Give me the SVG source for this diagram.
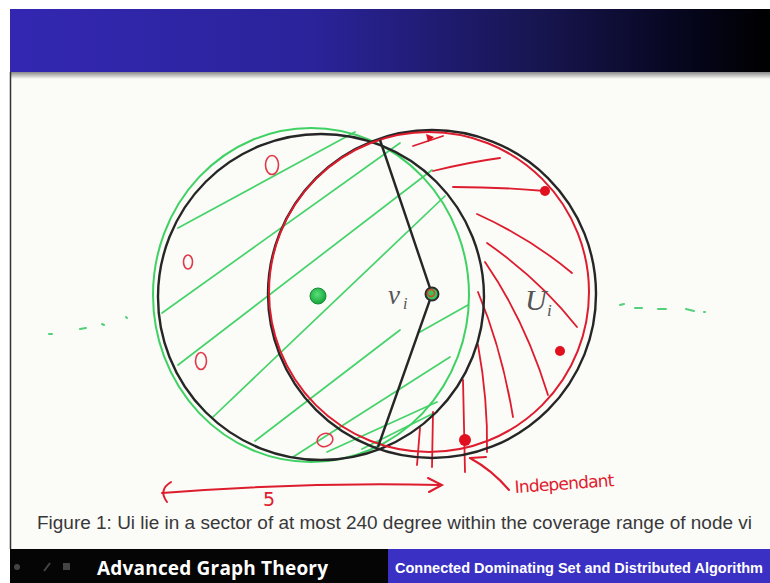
<svg xmlns="http://www.w3.org/2000/svg" width="770" height="583" viewBox="0 0 770 583">
<defs>
<linearGradient id="topband" x1="0" y1="0" x2="1" y2="0">
<stop offset="0" stop-color="#3327b2"/>
<stop offset="0.4" stop-color="#2a239a"/>
<stop offset="0.7" stop-color="#17154f"/>
<stop offset="0.9" stop-color="#05051a"/>
<stop offset="1" stop-color="#000000"/>
</linearGradient>
<linearGradient id="shadow" x1="0" y1="0" x2="0" y2="1">
<stop offset="0" stop-color="#8a8a8a"/>
<stop offset="1" stop-color="#fbfbf8"/>
</linearGradient>
<radialGradient id="gdot" cx="0.45" cy="0.4" r="0.6">
<stop offset="0" stop-color="#5be07a"/>
<stop offset="1" stop-color="#15a43a"/>
</radialGradient>
</defs>
<style>
.blk{fill:none;stroke:#262626;stroke-width:2.4}
.grn{fill:none;stroke:#3fd163;stroke-width:2}
.red{fill:none;stroke:#dd1c2e;stroke-width:2;stroke-linecap:round}
.hatch{fill:none;stroke:#46d36a;stroke-width:1.7;stroke-linecap:round}
.rh{fill:none;stroke:#dd1c2e;stroke-width:1.8;stroke-linecap:round}
.zero{fill:none;stroke:#e03a4a;stroke-width:1.6}
.rdot{fill:#e0101f}
.dash{fill:none;stroke:#52d07a;stroke-width:2;stroke-linecap:round}
.cap{font-family:"Liberation Sans",Arial,sans-serif;font-size:17.5px;fill:#383838}
.math{font-family:"Liberation Serif","DejaVu Serif",serif;font-style:italic;fill:#555}
.hand{font-family:"DejaVu Sans","Liberation Sans",sans-serif;fill:#e01c2e}
</style>

<rect x="0" y="0" width="770" height="583" fill="#ffffff"/>
<rect x="10" y="72" width="760" height="477" fill="#fbfbf8"/>
<rect x="10" y="9" width="760" height="63" fill="url(#topband)"/>
<rect x="10" y="72" width="760" height="7" fill="url(#shadow)"/>
<line x1="10.5" y1="72" x2="10.5" y2="549" stroke="#333" stroke-width="1.5"/>

<g id="hatching">
<path class="hatch" d="M178,228 L355,132"/>
<path class="hatch" d="M162,313 L400,143"/>
<path class="hatch" d="M178,365 L432,170"/>
<path class="hatch" d="M213,417 L445,196"/>
<path class="hatch" d="M255,441 L400,330"/>
<path class="hatch" d="M420,332 L468,305"/>
<path class="hatch" d="M293,457 L450,357"/>
<path class="hatch" d="M327,452 L437,402"/>
<path class="hatch" d="M362,449 L432,414"/>
</g>

<g id="red-hatching">
<path class="rh" d="M413,146 L443,136"/>
<path class="rdot" d="M426,134 L434,137 L428,142 Z"/>
<path class="rh" d="M433,171 Q470,162 500,158"/>
<path class="rh" d="M453,187 Q500,187 545,191"/>
<path class="rh" d="M477,214 Q530,238 572,273"/>
<path class="rh" d="M487,243 Q540,280 577,327"/>
<path class="rh" d="M485,262 Q525,320 548,395"/>
<path class="rh" d="M478,292 Q502,350 513,417"/>
<path class="rh" d="M478,345 Q488,400 487,452"/>
<path class="rh" d="M463,380 L465,472"/>
<path class="rh" d="M433,412 L432,467"/>
<path class="rh" d="M420,428 L417,465"/>
</g>

<g id="circle-u">
<ellipse class="grn" cx="311" cy="295" rx="158" ry="167"/>
<circle class="blk" cx="321" cy="297" r="163"/>
</g>

<g id="circle-vi">
<circle class="blk" cx="432" cy="294" r="164"/>
<circle class="red" cx="429" cy="292" r="160"/>
</g>

<g id="connectors">
<path class="blk" d="M380,140 L432,294 L378,447" stroke-width="2"/>
<path class="red" d="M162,493 Q300,482 440,485"/>
<path class="red" d="M171,482 Q158,490 167,502"/>
<path class="red" d="M428,478 L442,485 L429,492"/>
<path class="red" d="M509,490 Q492,470 470,458"/>
<path class="red" d="M470,458 L486,457"/>
</g>

<g id="node-u">
<circle cx="318" cy="296" r="8" fill="url(#gdot)" stroke="#1a8a35" stroke-width="1"/>
</g>

<g id="node-vi">
<circle cx="432" cy="294" r="6.5" fill="#3cc05a" stroke="#2b2b2b" stroke-width="2"/>
<circle cx="431" cy="293" r="3.5" fill="none" stroke="#d8452a" stroke-width="1.5"/>
<text class="math" x="388" y="304" font-size="27">v</text>
<text class="math" x="403" y="309" font-size="16">i</text>
</g>

<g id="label-ui">
<text class="math" x="525" y="310" font-size="30">U</text>
<text class="math" x="547" y="316" font-size="17">i</text>
</g>

<g id="uncovered-nodes">
<ellipse class="zero" cx="272" cy="165" rx="6.5" ry="9.5"/>
<ellipse class="zero" cx="188" cy="262" rx="4.5" ry="7"/>
<ellipse class="zero" cx="201" cy="361" rx="5.5" ry="8.5"/>
<ellipse class="zero" cx="325" cy="440" rx="8" ry="6.5" transform="rotate(-20 325 440)"/>
</g>

<g id="independent-nodes">
<circle class="rdot" cx="545" cy="191" r="5"/>
<circle class="rdot" cx="560" cy="351" r="5"/>
<circle class="rdot" cx="465" cy="440" r="6"/>
</g>

<g id="dots">
<path class="dash" d="M49,334 L52,334 M80,329 L86,328 M102,324 L104,325 M126,317 L127,318"/>
<path class="dash" d="M620,305 L624,304 M635,308 L642,308 M658,309 L666,309 M686,309 L694,311 M704,312 L705,312"/>
</g>

<text class="hand" x="263" y="506" font-size="19">5</text>
<text class="hand" x="515" y="493" font-size="17" textLength="100" transform="rotate(-4 515 493)">Independant</text>

<text class="cap" x="37" y="529" textLength="715" lengthAdjust="spacingAndGlyphs">Figure 1: Ui lie in a sector of at most 240 degree within the coverage range of node vi</text>

<g id="footer">
<rect x="10" y="549" width="380" height="34" fill="#050505"/>
<rect x="388" y="549" width="382" height="34" fill="#3a30c4"/>
<circle cx="17" cy="567" r="3" fill="#444"/>
<path d="M44,571 L50,563" stroke="#444" stroke-width="2"/>
<rect x="63" y="563" width="7" height="7" fill="#444"/>
<text x="97" y="575" font-family="'Open Sans','Liberation Sans',sans-serif" font-weight="bold" font-size="19" fill="#ffffff" textLength="231">Advanced Graph Theory</text>
<text x="395" y="573" font-family="'Liberation Sans',Arial,sans-serif" font-weight="bold" font-size="14" fill="#ffffff" textLength="368" lengthAdjust="spacingAndGlyphs">Connected Dominating Set and Distributed Algorithm</text>
</g>
</svg>
